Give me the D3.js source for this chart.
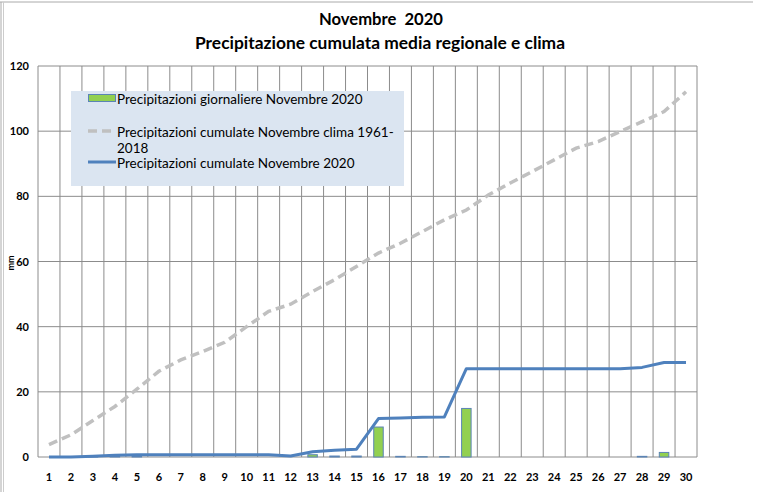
<!DOCTYPE html>
<html>
<head>
<meta charset="utf-8">
<script src="https://cdn.jsdelivr.net/npm/d3@7"></script>
<style>
  html, body { margin: 0; padding: 0; background: #fff; }
  svg text { font-family: Lato, "Open Sans", sans-serif; }
</style>
</head>
<body>
<svg id="chart" width="757" height="492"></svg>
<script>
const days = d3.range(1, 31);
// precipitazioni giornaliere (mm)
const daily = [0, 0, 0.2, 0.3, 0.2, 0, 0, 0, 0, 0,
  0, 0, 0.7, 0.3, 0.3, 9.2, 0.2, 0.1, 0.1, 14.9,
  0, 0, 0, 0, 0, 0, 0, 0.2, 1.4, 0];
// cumulata 2020
const cum2020 = [0, 0, 0.2, 0.5, 0.7, 0.7, 0.7, 0.7, 0.7, 0.7,
  0.7, 0.3, 1.6, 2.1, 2.4, 11.8, 12.0, 12.2, 12.3, 27.1,
  27.1, 27.1, 27.1, 27.1, 27.1, 27.1, 27.1, 27.5, 29.0, 29.0];
// cumulata clima 1961-2018
const cumClima = [3.8, 6.8, 11.2, 15.5, 20.8, 26.3, 29.8, 32.4, 35.2, 40.0,
  44.7, 46.9, 50.8, 54.4, 58.5, 62.6, 65.6, 69.2, 72.8, 75.8,
  80.4, 84.1, 87.6, 91.2, 94.8, 96.8, 99.9, 102.9, 106.0, 112.1];
const yTicks = [0, 20, 40, 60, 80, 100, 120];
const legendLabels = [
  ['Precipitazioni giornaliere Novembre 2020'],
  ['Precipitazioni cumulate Novembre clima 1961-', '2018'],
  ['Precipitazioni cumulate Novembre 2020']
];

const svg = d3.select('svg#chart');
const plot = { left: 38, right: 697, top: 66, bottom: 457 };

// cornice
svg.append('line').attr('x1', 0).attr('x2', 753).attr('y1', 2).attr('y2', 2)
  .attr('stroke', '#aaa').attr('stroke-width', 1);
svg.append('line').attr('x1', 1).attr('x2', 1).attr('y1', 2).attr('y2', 492)
  .attr('stroke', '#aaa');
svg.append('line').attr('x1', 3.5).attr('x2', 3.5).attr('y1', 2).attr('y2', 492)
  .attr('stroke', '#ccc');

// titoli
svg.append('text').text('Novembre  2020')
  .attr('x', 381).attr('y', 25).attr('text-anchor', 'middle')
  .attr('font-size', 17).attr('font-weight', 'bold')
  .attr('textLength', 124).attr('lengthAdjust', 'spacingAndGlyphs')
  .style('white-space', 'pre');
svg.append('text').text('Precipitazione cumulata media regionale e clima')
  .attr('x', 380).attr('y', 49).attr('text-anchor', 'middle')
  .attr('font-size', 17).attr('font-weight', 'bold')
  .attr('textLength', 370).attr('lengthAdjust', 'spacingAndGlyphs');

const x = d3.scaleBand().domain(days).range([plot.left, plot.right]);
const y = d3.scaleLinear().domain([0, 120]).range([plot.bottom, plot.top]);

// griglia
svg.append('g').selectAll('line').data(yTicks).join('line')
  .attr('x1', plot.left).attr('x2', plot.right)
  .attr('y1', d => y(d)).attr('y2', d => y(d))
  .attr('stroke', '#8c8c8c').attr('stroke-width', 1);
svg.append('g').selectAll('line').data(days.concat([31])).join('line')
  .attr('x1', d => d === 31 ? plot.right : x(d)).attr('x2', d => d === 31 ? plot.right : x(d))
  .attr('y1', plot.top).attr('y2', plot.bottom)
  .attr('stroke', '#8c8c8c').attr('stroke-width', 1);

// assi
const yAxis = d3.axisLeft(y).tickValues(yTicks).tickSize(0).tickPadding(9);
svg.append('g').attr('transform', `translate(${plot.left},0)`).call(yAxis)
  .call(g => g.select('.domain').remove())
  .selectAll('text').attr('font-size', 11).attr('font-weight', 'bold').attr('fill', '#000')
  .style('font-family', 'Lato, sans-serif');
const xAxis = d3.axisBottom(x).tickSize(0).tickPadding(16);
svg.append('g').attr('transform', `translate(0,${plot.bottom})`).call(xAxis)
  .call(g => g.select('.domain').remove())
  .selectAll('text').attr('font-size', 11).attr('font-weight', 'bold').attr('fill', '#000')
  .style('font-family', 'Lato, sans-serif');

svg.append('text').text('mm')
  .attr('transform', 'translate(14,263) rotate(-90)')
  .attr('text-anchor', 'middle').attr('font-size', 9).attr('font-weight', 'bold');

// barre giornaliere
const barW = 9.5;
svg.append('g').selectAll('rect').data(days.filter((d, i) => daily[i] > 0)).join('rect')
  .attr('x', d => x(d) + x.bandwidth() / 2 - barW / 2)
  .attr('width', barW)
  .attr('y', d => y(daily[d - 1]))
  .attr('height', d => y(0) - y(daily[d - 1]))
  .attr('fill', '#92D050').attr('stroke', '#5b84b5').attr('stroke-width', 1);

// linee
const line = vals => d3.line()
  .x((d, i) => x(days[i]) + x.bandwidth() / 2)
  .y(d => y(d))(vals);
svg.append('path').attr('d', line(cumClima))
  .attr('fill', 'none').attr('stroke', '#c0c0c0').attr('stroke-width', 3.5)
  .attr('stroke-dasharray', '9,5');
svg.append('path').attr('d', line(cum2020))
  .attr('fill', 'none').attr('stroke', '#4F81BD').attr('stroke-width', 3)
  .attr('stroke-linejoin', 'round');

// legenda
const lg = svg.append('g');
lg.append('rect').attr('x', 71).attr('y', 91).attr('width', 333).attr('height', 95)
  .attr('fill', '#dbe5f1');
lg.append('rect').attr('x', 88.5).attr('y', 94.5).attr('width', 27).attr('height', 7)
  .attr('fill', '#92D050').attr('stroke', '#5b84b5');
lg.append('line').attr('x1', 88).attr('x2', 116).attr('y1', 131).attr('y2', 131)
  .attr('stroke', '#c0c0c0').attr('stroke-width', 3.5).attr('stroke-dasharray', '9,5');
lg.append('line').attr('x1', 88).attr('x2', 116).attr('y1', 162).attr('y2', 162)
  .attr('stroke', '#4F81BD').attr('stroke-width', 3);
const legendY = [104, 137, 168];
legendLabels.forEach((lines, i) => {
  lines.forEach((t, j) => {
    lg.append('text').text(t)
      .attr('x', 117).attr('y', legendY[i] + j * 16)
      .attr('font-size', 13.5).attr('fill', '#000');
  });
});
</script>
</body>
</html>
